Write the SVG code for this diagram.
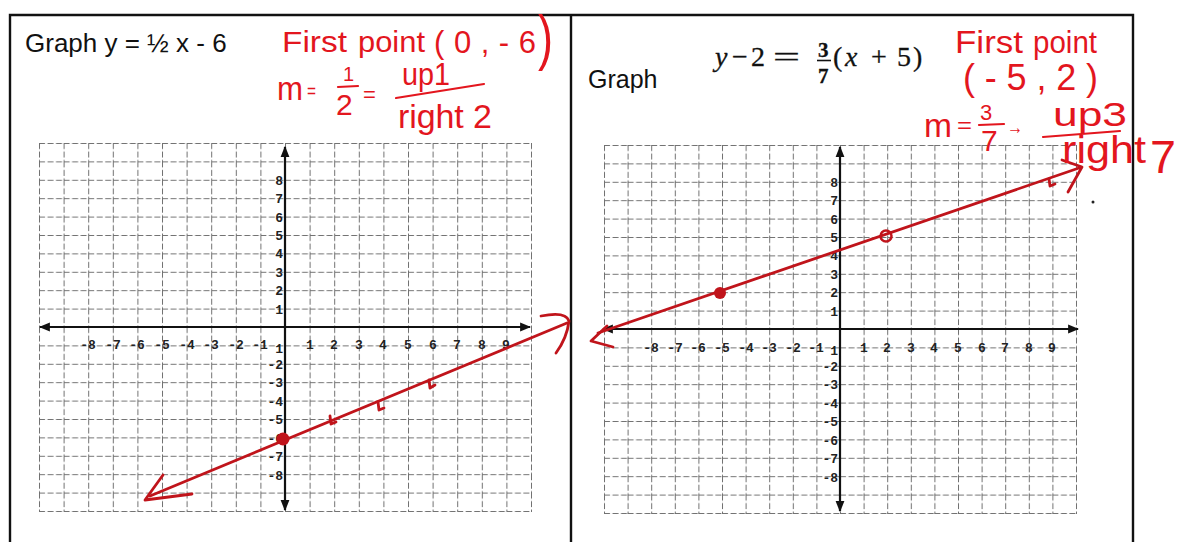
<svg xmlns="http://www.w3.org/2000/svg" width="1186" height="542" viewBox="0 0 1186 542">
<style>
.frame{fill:none;stroke:#111;stroke-width:2.4}
.gl{fill:none;stroke:#3a3a3a;stroke-width:1;stroke-dasharray:6 2.5;opacity:.72}
.ax{fill:none;stroke:#111;stroke-width:2.2}
.lbl{font-family:"Liberation Mono","DejaVu Sans Mono",monospace;font-size:13px;font-weight:bold;fill:#222}
.mid{text-anchor:middle}
.end{text-anchor:end}
.title{font-family:"Liberation Sans",Arial,sans-serif;fill:#111}
.eq{font-family:"Liberation Serif","Times New Roman",serif;fill:#111;stroke:#111;stroke-width:.3}
.hw{font-family:"Liberation Sans",Arial,sans-serif;fill:#e3161e}
.hwl{fill:none;stroke:#e3161e;stroke-width:2.2;stroke-linecap:round;stroke-linejoin:round}
.rl{fill:none;stroke:#c0141b;stroke-width:2.8;stroke-linecap:round;stroke-linejoin:round}
</style>
<defs>
<pattern id="gridL" patternUnits="userSpaceOnUse" x="39" y="143" width="24.6" height="18.4"><path d="M0 0.5H24.6M0.5 0V18.4" class="gl"/></pattern>
<pattern id="gridR" patternUnits="userSpaceOnUse" x="604" y="145" width="23.6" height="18.4"><path d="M0 0.5H23.6M0.5 0V18.4" class="gl"/></pattern>
<marker id="arr" viewBox="0 0 10 10" refX="9" refY="5" markerWidth="5" markerHeight="5" orient="auto-start-reverse" markerUnits="strokeWidth"><path d="M0 1L10 5L0 9z" fill="#111"/></marker>
</defs>
<rect width="1186" height="542" fill="#fff"/>

<g id="frame">
<path class="frame" d="M10 542V15H1133V542M571 15V542"/>
</g>

<g id="title-left">
<text class="title" x="25" y="52" font-size="26">Graph y = ½ x - 6</text>
</g>

<g id="title-right">
<text class="title" x="588" y="88" font-size="25">Graph</text>
<text class="eq" font-size="28" y="66"><tspan x="715" font-style="italic">y</tspan><tspan x="732">−</tspan><tspan x="751">2</tspan><tspan x="773" textLength="27" lengthAdjust="spacingAndGlyphs">=</tspan><tspan x="833">(</tspan><tspan x="845" font-style="italic">x</tspan><tspan x="871">+</tspan><tspan x="897">5</tspan><tspan x="913">)</tspan></text>
<text class="eq" font-size="21" x="818" y="57" font-weight="bold">3</text>
<path d="M817 60.5H831" stroke="#111" stroke-width="1.6"/>
<text class="eq" font-size="21" x="818" y="83" font-weight="bold">7</text>
</g>

<g id="graph-left">
<rect x="39" y="143" width="493" height="369" fill="url(#gridL)"/>
<path class="ax" d="M40 327H530" marker-start="url(#arr)" marker-end="url(#arr)"/>
<path class="ax" d="M285 147V510" marker-start="url(#arr)" marker-end="url(#arr)"/>
<g class="lbl mid">
<text x="88" y="349">-8</text><text x="113" y="349">-7</text><text x="137" y="349">-6</text><text x="162" y="349">-5</text><text x="187" y="349">-4</text><text x="211" y="349">-3</text><text x="236" y="349">-2</text><text x="260" y="349">-1</text>
<text x="310" y="349">1</text><text x="334" y="349">2</text><text x="359" y="349">3</text><text x="383" y="349">4</text><text x="408" y="349">5</text><text x="433" y="349">6</text><text x="457" y="349">7</text><text x="482" y="349">8</text><text x="506" y="349">9</text>
</g>
<g class="lbl end">
<text x="283" y="185">8</text><text x="283" y="203">7</text><text x="283" y="222">6</text><text x="283" y="240">5</text><text x="283" y="258">4</text><text x="283" y="277">3</text><text x="283" y="295">2</text><text x="283" y="314">1</text>
<text x="283" y="353">1</text>
<text x="283" y="369">-2</text><text x="283" y="387">-3</text><text x="283" y="406">-4</text><text x="283" y="424">-5</text><text x="283" y="443">-6</text><text x="283" y="461">-7</text><text x="283" y="480">-8</text>
</g>
<path class="rl" d="M150 496L567 323"/>
<path class="rl" d="M163 475L145 500L192 494"/>
<path class="rl" d="M541 316Q566 311 569 321Q567 338 556 353"/>
<circle cx="283" cy="439" r="6.5" fill="#c0141b"/>
<path class="rl" d="M330 416L331 424L336 422M378 402L379 410L384 408M429 380L430 388L435 385"/>
</g>

<g id="graph-right">
<rect x="604" y="145" width="473" height="369" fill="url(#gridR)"/>
<path class="ax" d="M603 329H1078" marker-start="url(#arr)" marker-end="url(#arr)"/>
<path class="ax" d="M840 147V511" marker-start="url(#arr)" marker-end="url(#arr)"/>
<g class="lbl mid">
<text x="651" y="352">-8</text><text x="675" y="352">-7</text><text x="698" y="352">-6</text><text x="722" y="352">-5</text><text x="746" y="352">-4</text><text x="769" y="352">-3</text><text x="793" y="352">-2</text><text x="816" y="352">-1</text>
<text x="864" y="352">1</text><text x="887" y="352">2</text><text x="911" y="352">3</text><text x="934" y="352">4</text><text x="958" y="352">5</text><text x="982" y="352">6</text><text x="1005" y="352">7</text><text x="1029" y="352">8</text><text x="1052" y="352">9</text>
</g>
<g class="lbl end">
<text x="838" y="187">8</text><text x="838" y="205">7</text><text x="838" y="224">6</text><text x="838" y="242">5</text><text x="838" y="260">4</text><text x="838" y="279">3</text><text x="838" y="297">2</text><text x="838" y="316">1</text>
<text x="838" y="355">1</text>
<text x="838" y="371">-2</text><text x="838" y="389">-3</text><text x="838" y="408">-4</text><text x="838" y="426">-5</text><text x="838" y="445">-6</text><text x="838" y="463">-7</text><text x="838" y="482">-8</text>
</g>
<path class="rl" d="M598 333L1079 168"/>
<path class="rl" d="M607 326L591 341L613 347"/>
<path class="rl" d="M1062 160L1082 167L1068 192"/>
<circle cx="720" cy="293" r="6" fill="#c0141b"/>
<circle cx="886" cy="236" r="5.5" fill="none" stroke="#c0141b" stroke-width="2.5"/>
<path class="rl" d="M1049 179L1050 186L1055 184"/>
<circle cx="1093" cy="202" r="1.5" fill="#222"/>
</g>

<g id="notes-left">
<text class="hw" x="282" y="52" font-size="30" textLength="65" lengthAdjust="spacingAndGlyphs">First</text>
<text class="hw" x="358" y="52" font-size="30" textLength="67" lengthAdjust="spacingAndGlyphs">point</text>
<text class="hw" x="434" y="53" font-size="31" textLength="102" lengthAdjust="spacing">(0,-6</text>
<text class="hw" x="538" y="58" font-size="62" textLength="15" lengthAdjust="spacingAndGlyphs">)</text>
<text class="hw" x="277" y="100" font-size="34" textLength="26" lengthAdjust="spacingAndGlyphs">m</text>
<text class="hw" x="307" y="98" font-size="20" textLength="9" lengthAdjust="spacingAndGlyphs">=</text>
<text class="hw" x="343" y="81" font-size="20">1</text>
<path class="hwl" d="M338 87L358 86"/>
<text class="hw" x="336" y="115" font-size="30">2</text>
<text class="hw" x="363" y="102" font-size="22">=</text>
<text class="hw" x="402" y="85" font-size="32" textLength="48" lengthAdjust="spacingAndGlyphs">up1</text>
<path class="hwl" d="M396 98L484 84"/>
<text class="hw" x="398" y="128" font-size="34" textLength="94" lengthAdjust="spacing">right 2</text>
</g>

<g id="notes-right">
<text class="hw" x="955" y="53" font-size="32" textLength="68" lengthAdjust="spacingAndGlyphs">First</text>
<text class="hw" x="1033" y="53" font-size="32" textLength="64" lengthAdjust="spacingAndGlyphs">point</text>
<text class="hw" x="963" y="90" font-size="36" textLength="135" lengthAdjust="spacing">(-5,2)</text>
<text class="hw" x="924" y="137" font-size="34" textLength="28" lengthAdjust="spacingAndGlyphs">m</text>
<text class="hw" x="957" y="133" font-size="22" textLength="15" lengthAdjust="spacingAndGlyphs">=</text>
<text class="hw" x="980" y="120" font-size="22">3</text>
<path class="hwl" d="M979 125L1004 124"/>
<text class="hw" x="981" y="151" font-size="30">7</text>
<text class="hw" x="1007" y="134" font-size="20" textLength="16" lengthAdjust="spacingAndGlyphs">→</text>
<text class="hw" x="1053" y="126" font-size="34" textLength="74" lengthAdjust="spacingAndGlyphs">up3</text>
<path class="hwl" d="M1043 137L1120 131"/>
<text class="hw" x="1062" y="163" font-size="38" textLength="84" lengthAdjust="spacingAndGlyphs">right</text>
<text class="hw" x="1150" y="173" font-size="46" textLength="26" lengthAdjust="spacingAndGlyphs">7</text>
</g>
</svg>
